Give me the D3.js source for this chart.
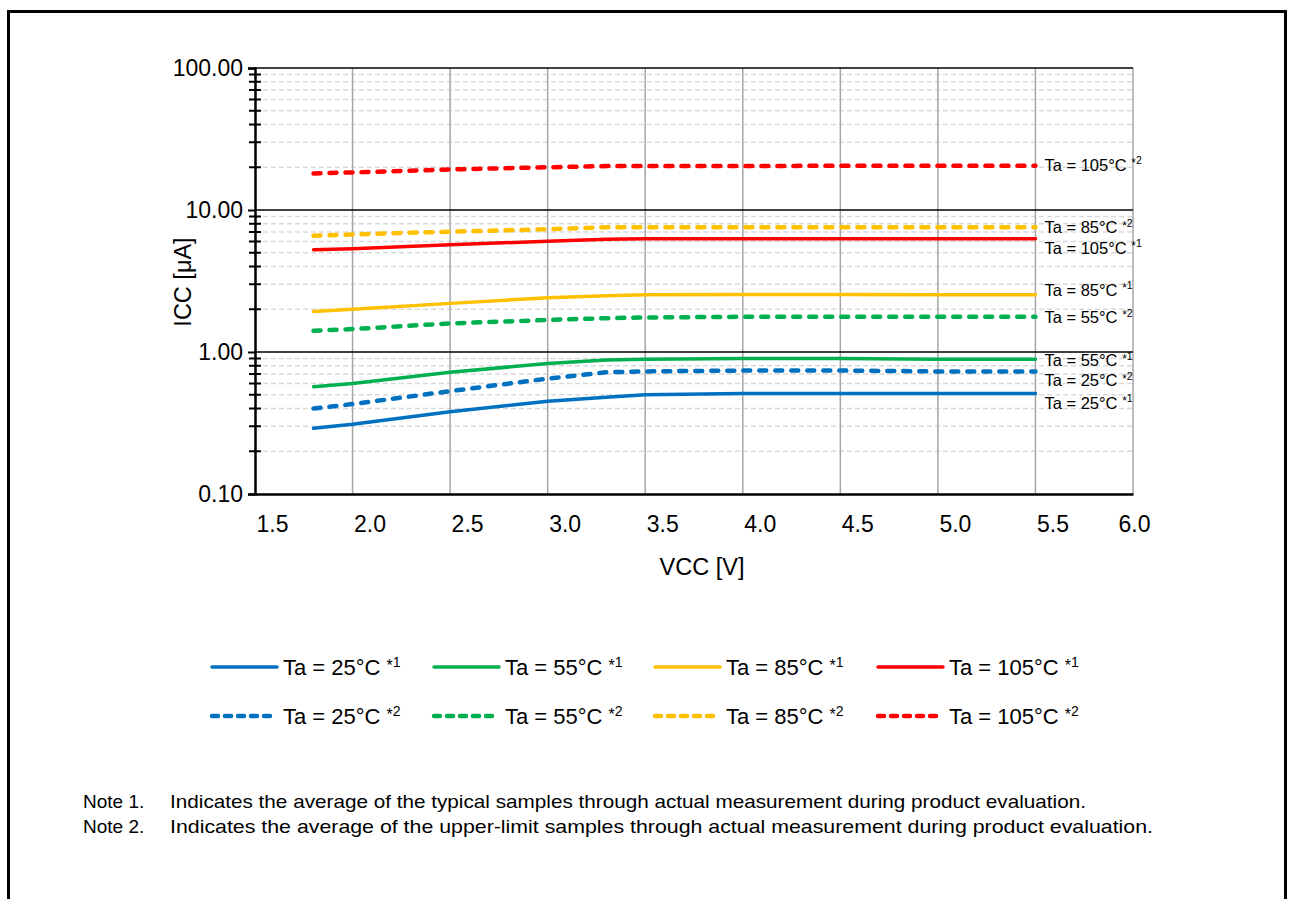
<!DOCTYPE html>
<html>
<head>
<meta charset="utf-8">
<title>ICC vs VCC</title>
<style>
  body { margin: 0; background: #fff; }
  text { font-family: Arial, "Liberation Sans", sans-serif; fill: #000; }
</style>
</head>
<body>
<script src="https://cdn.jsdelivr.net/npm/d3@7"></script>
<script>
// supply voltage points (V)
var vcc = [1.8, 2.0, 2.5, 3.0, 3.3, 3.5, 4.0, 4.5, 5.0, 5.5];

// ICC (uA)
var typ25  = [0.29, 0.31, 0.38, 0.45, 0.48, 0.50, 0.51, 0.51, 0.51, 0.51];
var typ55  = [0.57, 0.60, 0.72, 0.83, 0.88, 0.89, 0.90, 0.90, 0.89, 0.89];
var typ85  = [1.93, 2.00, 2.20, 2.41, 2.49, 2.53, 2.54, 2.54, 2.53, 2.53];
var typ105 = [5.25, 5.33, 5.70, 6.02, 6.22, 6.28, 6.28, 6.28, 6.28, 6.28];
var up25   = [0.40, 0.43, 0.53, 0.65, 0.72, 0.73, 0.74, 0.74, 0.73, 0.73];
var up55   = [1.41, 1.45, 1.59, 1.68, 1.73, 1.75, 1.77, 1.77, 1.77, 1.77];
var up85   = [6.59, 6.73, 7.04, 7.32, 7.56, 7.56, 7.56, 7.56, 7.56, 7.56];
var up105  = [18.1, 18.4, 19.3, 20.0, 20.4, 20.4, 20.4, 20.5, 20.5, 20.5];

var xTicks = [1.5, 2.0, 2.5, 3.0, 3.5, 4.0, 4.5, 5.0, 5.5, 6.0];
var yMajor = [0.1, 1, 10, 100];
var temps = ["25", "55", "85", "105"];
var colors = ["#0070C0", "#00B050", "#FFC000", "#FF0000"];

var series = [
  { t: 0, kind: "1", vals: typ25 },
  { t: 1, kind: "1", vals: typ55 },
  { t: 2, kind: "1", vals: typ85 },
  { t: 3, kind: "1", vals: typ105 },
  { t: 0, kind: "2", vals: up25 },
  { t: 1, kind: "2", vals: up55 },
  { t: 2, kind: "2", vals: up85 },
  { t: 3, kind: "2", vals: up105 }
];
// vertical nudge of the end labels so they don't collide
var labelNudge = [10, 2, -4, 10, 10, 1, 1, 0];

var width = 1293, height = 899;
var font = "Arial, 'Liberation Sans', sans-serif";
var svg = d3.select("body").append("svg")
  .attr("width", width).attr("height", height);

// outer frame (open at the bottom)
svg.append("path")
  .attr("d", "M8.5,905 L8.5,11.5 L1285.5,11.5 L1285.5,905")
  .attr("fill", "none").attr("stroke", "#000").attr("stroke-width", 3);

var x = d3.scaleLinear().domain([1.5, 6.0]).range([255, 1133]);
var y = d3.scaleLog().domain([0.1, 100]).range([494, 68]);

// minor dashed horizontals
var minors = [];
[0.1, 1, 10].forEach(function(d) {
  for (var k = 2; k <= 9; k++) minors.push(d * k);
});
svg.append("g").selectAll("line").data(minors).enter().append("line")
  .attr("x1", x(1.5)).attr("x2", x(6.0))
  .attr("y1", function(d) { return y(d); })
  .attr("y2", function(d) { return y(d); })
  .attr("stroke", "#d9d9d9").attr("stroke-width", 1.5)
  .attr("stroke-dasharray", "5,3");

// vertical grid
svg.append("g").selectAll("line").data(xTicks.slice(1)).enter().append("line")
  .attr("x1", function(d) { return x(d); })
  .attr("x2", function(d) { return x(d); })
  .attr("y1", y(100)).attr("y2", y(0.1))
  .attr("stroke", "#a6a6a6").attr("stroke-width", 1.5);

// major horizontals
svg.append("g").selectAll("line").data(yMajor.slice(1)).enter().append("line")
  .attr("x1", x(1.5)).attr("x2", x(6.0))
  .attr("y1", function(d) { return y(d); })
  .attr("y2", function(d) { return y(d); })
  .attr("stroke", "#000").attr("stroke-width", 1.5);

// left axis with minor ticks crossing the line
var yAxis = d3.axisLeft(y).tickValues(yMajor).tickSize(7)
  .tickFormat(d3.format(".2f"));
var ga = svg.append("g").attr("transform", "translate(" + x(1.5) + ",0)").call(yAxis);
ga.select(".domain").attr("stroke-width", 2.5);
ga.selectAll(".tick line").attr("stroke-width", 2);
ga.selectAll(".tick text").attr("font-size", 23).attr("x", -12)
  .style("font-family", font);
svg.append("g").selectAll("line").data(minors).enter().append("line")
  .attr("x1", x(1.5) - 6).attr("x2", x(1.5) + 6)
  .attr("y1", function(d) { return y(d); })
  .attr("y2", function(d) { return y(d); })
  .attr("stroke", "#000").attr("stroke-width", 2);

// bottom axis
var xAxis = d3.axisBottom(x).tickValues(xTicks).tickSize(0)
  .tickFormat(d3.format(".1f"));
var gx = svg.append("g").attr("transform", "translate(0," + y(0.1) + ")").call(xAxis);
gx.select(".domain").attr("stroke-width", 2.5);
gx.selectAll(".tick text").attr("font-size", 23).attr("y", 22)
  .attr("dx", function(d) { return d === 6.0 ? 1 : 17; })
  .style("font-family", font);

// axis titles
svg.append("text").attr("x", 702).attr("y", 575)
  .attr("text-anchor", "middle").attr("font-size", 23.5).text("VCC [V]");
svg.append("text").attr("transform", "translate(191,282) rotate(-90)")
  .attr("text-anchor", "middle").attr("font-size", 23.5).text("ICC [μA]");

// curves
var line = d3.line()
  .x(function(d, i) { return x(vcc[i]); })
  .y(function(d) { return y(d); });

function styleLine(sel, s, dash) {
  sel.attr("fill", "none").attr("stroke", colors[s.t])
    .attr("stroke-width", s.kind === "1" ? 3.5 : 4.5)
    .attr("stroke-linecap", "round").attr("stroke-linejoin", "round")
    .attr("stroke-dasharray", s.kind === "1" ? null : dash);
}

series.forEach(function(s) {
  svg.append("path").datum(s.vals).attr("d", line).call(styleLine, s, "7,9");
});

function labelText(sel, t, kind, fs) {
  sel.append("tspan").text("Ta = " + temps[t] + "°C ");
  sel.append("tspan").text("*").attr("font-size", fs * 0.72).attr("dy", -fs * 0.2);
  sel.append("tspan").text(kind).attr("font-size", fs * 0.64).attr("dy", -fs * 0.18);
}

// end labels inside the plot
series.forEach(function(s, i) {
  var last = s.vals[s.vals.length - 1];
  var t = svg.append("text").attr("x", x(5.5) + 9)
    .attr("y", y(last) + labelNudge[i] + 5).attr("font-size", 16.5);
  labelText(t, s.t, s.kind, 16.5);
});

// legend
var legX = [212, 434, 655, 878], legY = [667, 716];
series.forEach(function(s) {
  var lx = legX[s.t], ly = legY[s.kind === "1" ? 0 : 1];
  svg.append("path")
    .attr("d", "M" + lx + "," + ly + "H" + (lx + 65)).call(styleLine, s, "6,7");
  var t = svg.append("text").attr("x", lx + 71).attr("y", ly + 8).attr("font-size", 22);
  labelText(t, s.t, s.kind, 22);
});

// notes
var notes = [
  ["Note 1.", "Indicates the average of the typical samples through actual measurement during product evaluation.", 916],
  ["Note 2.", "Indicates the average of the upper-limit samples through actual measurement during product evaluation.", 983]
];
notes.forEach(function(n, i) {
  svg.append("text").attr("x", 83).attr("y", 808 + i * 25).attr("font-size", 19).text(n[0]);
  svg.append("text").attr("x", 170).attr("y", 808 + i * 25).attr("font-size", 19)
    .attr("textLength", n[2]).attr("lengthAdjust", "spacingAndGlyphs").text(n[1]);
});
</script>
</body>
</html>
